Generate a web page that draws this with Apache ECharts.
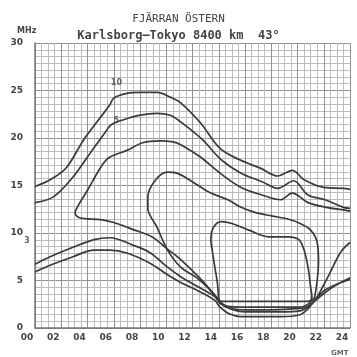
<!DOCTYPE html>
<html>
<head>
<meta charset="utf-8">
<script src="https://cdn.jsdelivr.net/npm/echarts@6/dist/echarts.min.js"></script>
<style>
  html, body { margin: 0; padding: 0; background: #fff; }
  #chart { width: 357px; height: 357px; }
</style>
</head>
<body>
<div id="chart"></div>
<script>
// tick labels
var hourTicks = ['00', '02', '04', '06', '08', '10', '12', '14', '16', '18', '20', '22', '24'];

// curves: [GMT hour, MHz]
var curve1 = [[0, 14.9], [1.15, 15.6], [2.4, 16.9], [3.7, 19.8], [5.0, 22.2], [5.7, 23.5], [6.0, 24.2], [7.0, 24.7],
  [8.0, 24.8], [9.3, 24.8], [10.3, 24.3], [11.1, 23.7], [12.6, 21.6], [14.1, 18.9], [15.6, 17.7], [17.2, 16.8],
  [18.5, 16.0], [19.6, 16.6], [20.5, 15.6], [22.0, 14.8], [23.5, 14.7], [24, 14.6]];
var curve2 = [[0, 13.2], [1.4, 13.8], [2.9, 15.9], [4.2, 18.4], [5.3, 20.5], [5.8, 21.4], [6.7, 21.9], [8.0, 22.4],
  [9.3, 22.6], [10.3, 22.4], [11.1, 21.7], [12.7, 19.9], [14.2, 17.7], [15.7, 16.3], [17.3, 15.4], [18.5, 14.7],
  [19.7, 15.5], [20.8, 14.0], [22.1, 13.5], [23.5, 12.7], [24, 12.6]];
var curve3 = [[21.2, 2.7], [20.4, 2.1], [16, 1.9], [15.2, 2.0], [14.4, 2.4], [14.0, 3.0], [13.5, 3.8], [12.6, 5.2],
  [11.1, 7.2], [10.1, 8.3], [8.9, 9.6], [7.6, 10.3], [6.0, 11.1], [5.0, 11.4], [3.4, 11.6], [3.05, 12.1],
  [3.3, 12.9], [4.0, 14.5], [5.0, 16.9], [5.6, 17.9], [7.0, 18.7], [8.2, 19.5], [9.5, 19.7], [10.5, 19.6],
  [11.1, 19.3], [12.6, 18.0], [14.1, 16.3], [15.7, 14.8], [17.3, 14.0], [18.7, 13.5], [19.6, 14.2], [20.8, 13.2],
  [22.2, 12.7], [23.6, 12.4], [24, 12.3]];
var curve3Tail = [[21.2, 2.7], [21.6, 3.5], [22.4, 5.6], [23.3, 8.0], [24, 9.0]];
var loopA = [[21.3, 3.2], [21.5, 5.0], [21.6, 7.0], [21.5, 9.0], [21.0, 10.3], [20.2, 11.0], [19.2, 11.5], [18.0, 11.8],
  [16.7, 12.2], [15.7, 12.7], [14.7, 13.5], [13.4, 14.2], [12.1, 15.3], [10.8, 16.3], [10.1, 16.4], [9.2, 15.6],
  [8.6, 13.8], [8.6, 12.6], [9.3, 10.6], [10.1, 8.2], [11.1, 6.4], [12.3, 5.3], [13.2, 4.2], [13.8, 3.2],
  [14.1, 2.7], [14.6, 2.3], [16, 2.2], [20.2, 2.2], [20.9, 2.6], [21.3, 3.2]];
var loopB = [[14.0, 2.9], [13.9, 4.7], [13.7, 6.4], [13.5, 8.2], [13.4, 9.3], [13.6, 10.6], [14.2, 11.2], [15.0, 11.0],
  [16.3, 10.3], [17.8, 9.6], [19.3, 9.6], [20.1, 9.3], [20.5, 8.2], [20.8, 6.4], [21.0, 4.3], [21.1, 3.2],
  [20.8, 2.8], [14.3, 2.8], [14.0, 2.9]];
var curve4 = [[0, 6.7], [1.15, 7.5], [2.9, 8.5], [4.5, 9.3], [5.7, 9.5], [7.5, 8.7], [8.8, 7.9], [10.1, 6.4],
  [11.1, 5.4], [12.6, 4.2], [13.7, 3.3], [14.1, 2.6], [14.9, 2.0], [16, 1.7], [18.7, 1.7], [20.2, 1.8],
  [21.0, 2.4], [21.3, 2.9], [22.1, 4.0], [23.3, 4.8], [24, 5.3]];
var curve5 = [[0, 5.9], [1.15, 6.6], [2.9, 7.5], [4.5, 8.2], [5.7, 8.2], [7.0, 7.9], [8.8, 6.8], [10.1, 5.6],
  [11.1, 4.8], [12.6, 3.8], [13.7, 2.9], [14.1, 2.2], [14.8, 1.5], [15.7, 1.2], [18.7, 1.2], [20.2, 1.4],
  [20.8, 2.0], [21.2, 2.7], [22.9, 4.5], [24, 5.1]];

// small curve labels: [hour, MHz, text]
var curveLabels = [[6.2, 25.8, '10'], [6.2, 21.8, '5'], [-0.6, 9.2, '3']];

var myChart = echarts.init(document.getElementById('chart'));

function curve(data) {
    return {
        type: 'line',
        data: data,
        smooth: 0.35,
        symbol: 'none',
        clip: true,
        lineStyle: { color: '#3a3a3a', width: 1.7 }
    };
}

var series = [curve1, curve2, curve3, curve3Tail, loopA, loopB, curve4, curve5].map(curve);

series.push({
    type: 'scatter',
    data: curveLabels.map(function (d) { return [d[0], d[1], d[2]]; }),
    symbolSize: 0,
    clip: false,
    label: {
        show: true,
        formatter: function (p) { return p.value[2]; },
        color: '#444',
        fontSize: 8,
        fontWeight: 'bold',
        fontFamily: 'DejaVu Sans'
    }
});

var option = {
    backgroundColor: '#fff',
    animation: false,
    title: [{
        text: 'FJÄRRAN ÖSTERN',
        left: 'center',
        top: 9,
        textStyle: { fontFamily: 'DejaVu Sans Mono', fontSize: 11, fontWeight: 'normal', color: '#444' }
    }, {
        text: 'Karlsborg–Tokyo 8400 km  43°',
        left: 'center',
        top: 25,
        textStyle: { fontFamily: 'DejaVu Sans Mono', fontSize: 12, fontWeight: 'bold', color: '#444' }
    }, {
        text: 'MHz',
        left: 12,
        top: 22,
        textStyle: { fontFamily: 'DejaVu Sans', fontSize: 8, fontWeight: 'bold', color: '#444' }
    }, {
        text: 'GMT',
        left: 326,
        top: 345,
        textStyle: { fontFamily: 'DejaVu Sans', fontSize: 7, fontWeight: 'bold', color: '#666' }
    }],
    grid: { left: 35, right: 7, top: 43, bottom: 29 },
    xAxis: {
        type: 'value',
        min: 0,
        max: 24,
        interval: 2,
        axisLine: { show: true, lineStyle: { color: '#777', width: 1.5 } },
        axisTick: { show: false },
        axisLabel: {
            formatter: function (v) { return hourTicks[v / 2]; },
            fontFamily: 'DejaVu Sans',
            fontSize: 9,
            fontWeight: 'bold',
            color: '#444',
            margin: 5,
            padding: [0, 16, 0, 0]
        },
        splitLine: { show: true, lineStyle: { color: '#929292', width: 1 } },
        minorTick: { show: false, splitNumber: 4 },
        minorSplitLine: { show: true, lineStyle: { color: '#bdbdbd', width: 1 } }
    },
    yAxis: {
        type: 'value',
        min: 0,
        max: 30,
        interval: 5,
        axisLine: { show: true, lineStyle: { color: '#777', width: 1.5 } },
        axisTick: { show: false },
        axisLabel: {
            fontFamily: 'DejaVu Sans',
            fontSize: 9,
            fontWeight: 'bold',
            color: '#444',
            margin: 12
        },
        splitLine: { show: true, lineStyle: { color: '#929292', width: 1 } },
        minorTick: { show: false, splitNumber: 7 },
        minorSplitLine: { show: true, lineStyle: { color: '#bdbdbd', width: 1 } }
    },
    series: series
};

myChart.setOption(option);
</script>
</body>
</html>
